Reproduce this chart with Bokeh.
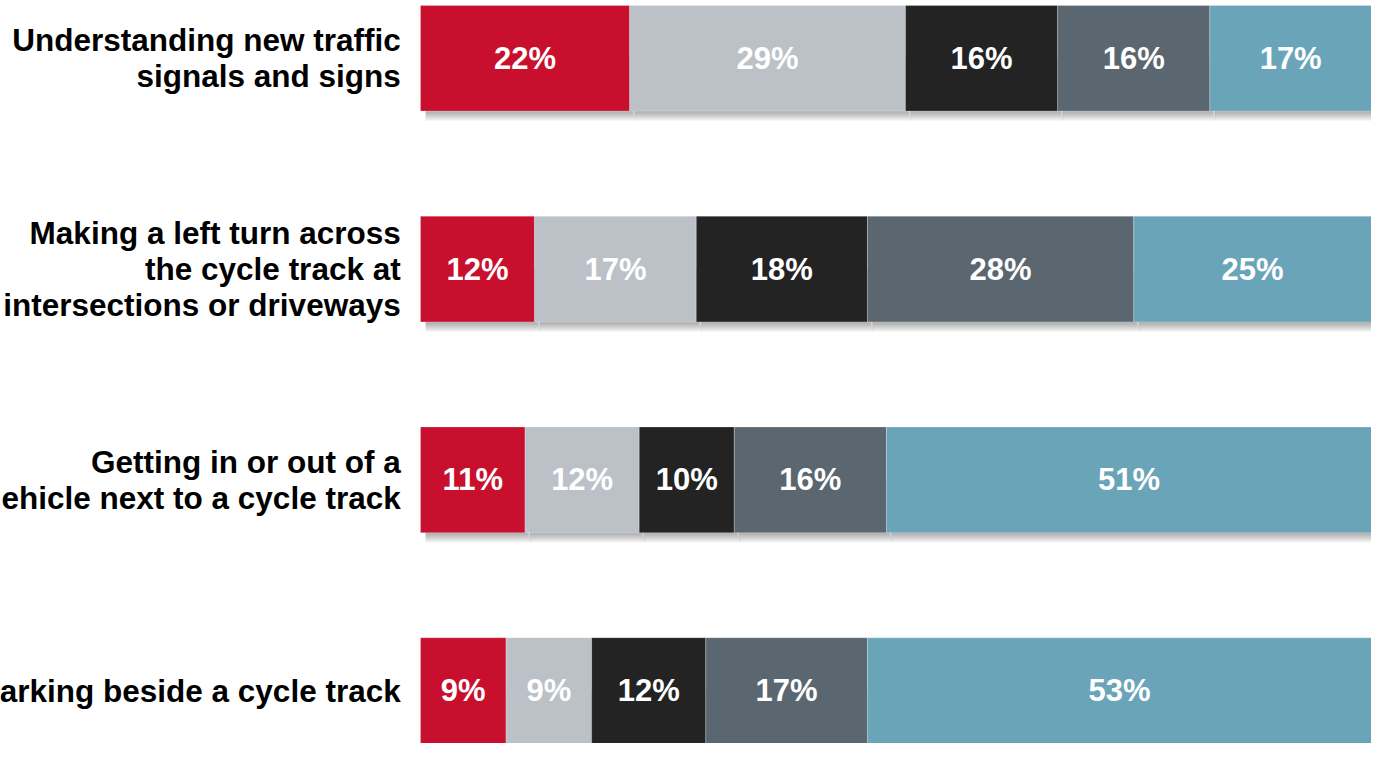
from bokeh.plotting import figure
from bokeh.models import Range1d, ColumnDataSource
from bokeh.embed import file_html
from bokeh.resources import INLINE
from bokeh.core.properties import value

# ---- data ----
questions = [
    "Understanding new traffic\nsignals and signs",
    "Making a left turn across\nthe cycle track at\nintersections or driveways",
    "Getting in or out of a\nehicle next to a cycle track",
    "arking beside a cycle track",
]
series_1 = [22, 12, 11, 9]
series_2 = [29, 17, 12, 9]
series_3 = [16, 18, 10, 12]
series_4 = [16, 28, 16, 17]
series_5 = [17, 25, 51, 53]
colors = ["#C8102E", "#BBC1C7", "#232323", "#5B6770", "#6AA4B9"]

all_series = [series_1, series_2, series_3, series_4, series_5]

# ---- layout ----
W, H = 1371, 743
X0, X1 = -44.16, 100.0
Y_BOTTOM, Y_TOP = 3.251, -0.274
BAR_H = 0.5016
px_x = W / (X1 - X0)
px_y = H / (Y_BOTTOM - Y_TOP)
FONT = value("Liberation Sans")
FS_LABEL = "31.5px"
FS_PCT = "31px"

p = figure(width=W, height=H, output_backend="svg", toolbar_location=None,
           x_range=Range1d(X0, X1), y_range=Range1d(Y_BOTTOM, Y_TOP),
           x_axis_location=None, y_axis_location=None, min_border=0)
p.xgrid.visible = False
p.ygrid.visible = False
p.outline_line_color = None
p.background_fill_color = "white"
p.border_fill_color = "white"

ys = list(range(len(questions)))

# compute segment extents
segments = []  # (left, right, y, val, color)
for i, y in enumerate(ys):
    left = 0.0
    for s, col in zip(all_series, colors):
        v = s[i]
        segments.append((left, left + v, y, v, col))
        left += v

# shadows (layered translucent quads)
for k in range(1, 11):
    src = ColumnDataSource(dict(
        left=[sg[0] + 5 / px_x for sg in segments],
        right=[sg[1] + (2 + 0.4 * k) / px_x for sg in segments],
        top=[sg[2] for sg in segments],
        bottom=[sg[2] + BAR_H / 2 + k / px_y for sg in segments],
    ))
    p.quad(left="left", right="right", top="top", bottom="bottom", source=src,
           fill_color="black", fill_alpha=0.035, line_color=None)

# bars
bsrc = ColumnDataSource(dict(
    left=[sg[0] for sg in segments],
    right=[sg[1] for sg in segments],
    y=[sg[2] for sg in segments],
    color=[sg[4] for sg in segments],
    label=[f"{sg[3]}%" for sg in segments],
    mid=[(sg[0] + sg[1]) / 2 for sg in segments],
))
p.hbar(y="y", left="left", right="right", height=BAR_H, source=bsrc,
       fill_color="color", line_color="white", line_alpha=0.25, line_width=1)

p.text(x="mid", y="y", text="label", source=bsrc, text_align="center",
       text_baseline="middle", text_color="white", text_font=FONT,
       text_font_style="bold", text_font_size=FS_PCT)

# category labels
lsrc = ColumnDataSource(dict(x=[0] * len(questions), y=ys, text=questions))
p.text(x="x", y="y", text="text", source=lsrc, x_offset=-20 * px_x / 9.625,
       text_align="right", text_baseline="middle", text_color="black",
       text_font=FONT, text_font_style="bold", text_font_size=FS_LABEL,
       text_line_height=1.0)

open("out.html", "w").write(file_html(p, INLINE))
